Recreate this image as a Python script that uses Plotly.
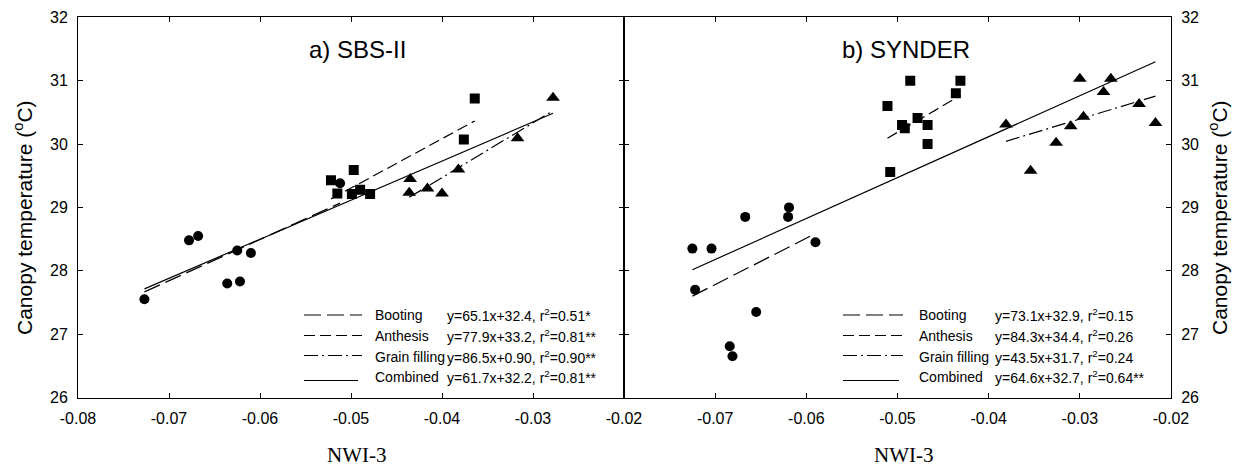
import plotly.graph_objects as go

# ---------------- data ----------------
# Panel a) SBS-II
a_boot_x = [-0.0727, -0.0678, -0.0668, -0.0636, -0.0622, -0.0625, -0.0610, -0.0512]
a_boot_y = [27.55, 28.48, 28.55, 27.80, 27.83, 28.32, 28.28, 29.38]
a_anth_x = [-0.0522, -0.0515, -0.0497, -0.0499, -0.0490, -0.0479, -0.0376, -0.0364]
a_anth_y = [29.43, 29.22, 29.59, 29.21, 29.28, 29.21, 30.07, 30.72]
a_grain_x = [-0.0435, -0.0436, -0.0416, -0.0400, -0.0382, -0.0317, -0.0278]
a_grain_y = [29.45, 29.23, 29.30, 29.22, 29.60, 30.09, 30.73]

# Panel b) SYNDER
b_boot_x = [-0.0725, -0.0704, -0.0722, -0.0667, -0.0655, -0.0684, -0.0681, -0.0619, -0.0620, -0.0590]
b_boot_y = [28.35, 28.35, 27.70, 28.85, 27.35, 26.81, 26.65, 29.00, 28.85, 28.45]
b_anth_x = [-0.0511, -0.0508, -0.0486, -0.0495, -0.0492, -0.0478, -0.0467, -0.0467, -0.0436, -0.0431]
b_anth_y = [30.60, 29.56, 31.00, 30.30, 30.25, 30.41, 30.30, 30.00, 30.80, 31.00]
b_grain_x = [-0.0381, -0.0354, -0.0326, -0.0310, -0.0300, -0.0296, -0.0274, -0.0266, -0.0235, -0.0217]
b_grain_y = [30.31, 29.58, 30.02, 30.28, 31.03, 30.43, 30.82, 31.03, 30.63, 30.33]

# regression fits: booting, anthesis, grain filling, combined
a_slope = [65.1, 77.9, 86.5, 61.7]
a_intercept = [32.4, 33.2, 32.93, 32.2]
b_slope = [73.1, 84.3, 43.5, 64.6]
b_intercept = [32.9, 34.4, 31.7, 32.7]

stage_names = ["Booting", "Anthesis", "Grain filling", "Combined"]
a_eqs = ["y=65.1x+32.4, r<sup>2</sup>=0.51*", "y=77.9x+33.2, r<sup>2</sup>=0.81**",
         "y=86.5x+0.90, r<sup>2</sup>=0.90**", "y=61.7x+32.2, r<sup>2</sup>=0.81**"]
b_eqs = ["y=73.1x+32.9, r<sup>2</sup>=0.15", "y=84.3x+34.4, r<sup>2</sup>=0.26",
         "y=43.5x+31.7, r<sup>2</sup>=0.24", "y=64.6x+32.7, r<sup>2</sup>=0.64**"]

x_ticks = [-0.08, -0.07, -0.06, -0.05, -0.04, -0.03, -0.02]
x_ticklabels = ["-0.08", "-0.07", "-0.06", "-0.05", "-0.04", "-0.03", "-0.02"]
y_ticks = [26, 27, 28, 29, 30, 31, 32]
y_ticklabels = ["26", "27", "28", "29", "30", "31", "32"]

# ---------------- styles ----------------
W, H = 1238, 471
SANS = "Liberation Sans, Arial, sans-serif"
SERIF = "Liberation Serif, Times New Roman, serif"
dashes = ["17px,6px", "11px,5px", "14px,4px,2px,4px", "solid"]
symbols = ["circle", "square", "triangle-up"]
sizes = [10, 10, 12]

def px(x):
    return x / W

def py(y):
    return 1 - y / H

fig = go.Figure()

panels = [
    ("x", "y", [a_boot_x, a_anth_x, a_grain_x], [a_boot_y, a_anth_y, a_grain_y], a_slope, a_intercept),
    ("x2", "y2", [b_boot_x, b_anth_x, b_grain_x], [b_boot_y, b_anth_y, b_grain_y], b_slope, b_intercept),
]

for xa, ya, xs, ys, slopes, ints in panels:
    groups = xs + [sum(xs, [])]
    for i, gx in enumerate(groups):
        x0, x1 = min(gx), max(gx)
        fig.add_trace(go.Scatter(
            x=[x0, x1], y=[slopes[i] * x0 + ints[i], slopes[i] * x1 + ints[i]],
            mode="lines", line=dict(color="black", width=1.2, dash=dashes[i]),
            xaxis=xa, yaxis=ya, showlegend=False, hoverinfo="skip"))
    for i in range(3):
        fig.add_trace(go.Scatter(
            x=xs[i], y=ys[i], mode="markers",
            marker=dict(symbol=symbols[i], size=sizes[i], color="black"),
            xaxis=xa, yaxis=ya, showlegend=False))

ydom = [py(397.5), py(17.3)]
axis_common = dict(showline=True, linecolor="black", linewidth=1, mirror="ticks",
                   ticks="inside", ticklen=5, tickwidth=1, tickcolor="black",
                   showgrid=False, zeroline=False, automargin=False,
                   tickfont=dict(family=SANS, size=16, color="black"))

fig.update_layout(
    width=W, height=H,
    margin=dict(l=0, r=0, t=0, b=0, pad=0),
    paper_bgcolor="white", plot_bgcolor="white",
    showlegend=False,
    xaxis=dict(domain=[px(78), px(624)], range=[-0.08, -0.02], anchor="y",
               tickvals=x_ticks, ticktext=x_ticklabels, ticklabelstandoff=6, **axis_common),
    yaxis=dict(domain=ydom, range=[26, 32], anchor="x",
               tickvals=y_ticks, ticktext=y_ticklabels, ticklabelstandoff=6, **axis_common),
    xaxis2=dict(domain=[px(624), px(1171)], range=[-0.08, -0.02], anchor="y2",
                tickvals=x_ticks[1:], ticktext=x_ticklabels[1:], ticklabelstandoff=6, **axis_common),
    yaxis2=dict(domain=ydom, range=[26, 32], anchor="x2", side="right",
                tickvals=y_ticks, ticktext=y_ticklabels, ticklabelstandoff=6, **axis_common),
)

ann = []
shapes = []
ann.append(dict(text="a) SBS-II", x=px(357), y=py(50), xref="paper", yref="paper",
                xanchor="center", yanchor="middle", showarrow=False,
                font=dict(family=SANS, size=24, color="black")))
ann.append(dict(text="b) SYNDER", x=px(906), y=py(50), xref="paper", yref="paper",
                xanchor="center", yanchor="middle", showarrow=False,
                font=dict(family=SANS, size=24, color="black")))
for xc in [356, 903]:
    ann.append(dict(text="NWI-3", x=px(xc), y=py(455), xref="paper", yref="paper",
                    xanchor="center", yanchor="middle", showarrow=False,
                    font=dict(family=SERIF, size=21, color="black")))
for xc in [23, 1218]:
    ann.append(dict(text="Canopy temperature (<sup>o</sup>C)", x=px(xc), y=py(218),
                    xref="paper", yref="paper", xanchor="center", yanchor="middle",
                    textangle=-90, showarrow=False,
                    font=dict(family=SANS, size=21, color="black")))

rows_y = [315, 335.5, 356.5, 376.5]
line_dy = [0, 0, -1, 4]
legends = [
    (304, 362, 373, 445, a_eqs),
    (843, 903, 917, 993, b_eqs),
]
for lx0, lx1, tx, ex, eqs in legends:
    for i in range(4):
        yy = rows_y[i]
        x1 = lx1 if i < 3 else lx1 - 4
        shapes.append(dict(type="line", xref="paper", yref="paper",
                           x0=px(lx0), x1=px(x1), y0=py(yy + line_dy[i]), y1=py(yy + line_dy[i]),
                           line=dict(color="black", width=1.2, dash=dashes[i])))
        ann.append(dict(text=stage_names[i], x=px(tx), y=py(yy), xref="paper", yref="paper",
                        xanchor="left", yanchor="middle", showarrow=False,
                        font=dict(family=SANS, size=14, color="black")))
        ann.append(dict(text=eqs[i], x=px(ex), y=py(yy), xref="paper", yref="paper",
                        xanchor="left", yanchor="middle", showarrow=False,
                        font=dict(family=SANS, size=14, color="black")))

fig.update_layout(annotations=ann, shapes=shapes)
fig.write_html("out.html", config={"displayModeBar": False},
               post_script="document.body.style.margin='0px';document.body.style.overflow='hidden';")
